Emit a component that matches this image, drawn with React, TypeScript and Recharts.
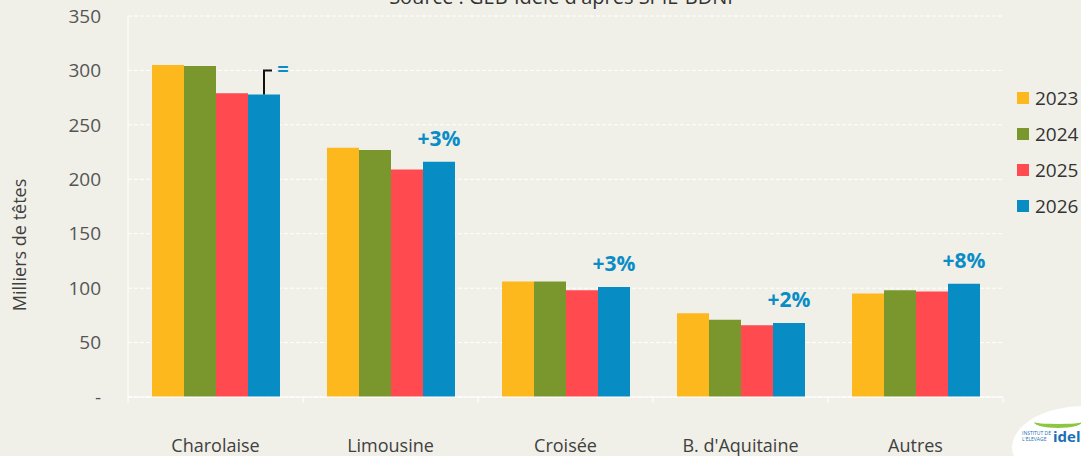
import React from 'react';
import {
  BarChart,
  Bar,
  XAxis,
  YAxis,
  CartesianGrid,
  Legend,
  LabelList,
} from 'recharts';

const categories = ['Charolaise', 'Limousine', 'Croisée', "B. d'Aquitaine", 'Autres'];
const v2023 = [305, 229, 106, 77, 95];
const v2024 = [304, 227, 106, 71, 98];
const v2025 = [279, 209, 98, 66, 97];
const v2026 = [278, 216, 101, 68, 104];
const changes = ['=', '+3%', '+3%', '+2%', '+8%'];
const yTicks = [0, 50, 100, 150, 200, 250, 300, 350];

const years = ['2023', '2024', '2025', '2026'];
const colors = ['#FDB81E', '#7A972D', '#FF4B4F', '#078DC4'];

const FONT = '"Open Sans", sans-serif';
const BG = '#F0F0E8';

const chartData = categories.map((name, i) => ({
  name,
  '2023': v2023[i],
  '2024': v2024[i],
  '2025': v2025[i],
  '2026': v2026[i],
  change: changes[i],
}));

function CategoryTick(props: any) {
  const { x, y, payload, index } = props;
  const half = payload?.offset || 87.5;
  const axisY = y - 8;
  return (
    <g>
      <line x1={x - half} x2={x - half} y1={axisY} y2={axisY + 6} stroke="#fff" />
      {index === categories.length - 1 && (
        <line x1={x + half} x2={x + half} y1={axisY} y2={axisY + 6} stroke="#fff" />
      )}
      <text x={x} y={y + 47} textAnchor="middle" fill="#404040" fontSize={18} fontFamily={FONT}>
        {payload.value}
      </text>
    </g>
  );
}

function ChangeLabel(props: any) {
  const { x, y, width, value } = props;
  const cx = x + width / 2;
  if (value === '=') {
    return (
      <g>
        <polyline
          points={`${cx},${y} ${cx},${y - 24} ${cx + 8},${y - 24}`}
          fill="none"
          stroke="#111"
          strokeWidth={2}
        />
        <text x={cx + 19} y={y - 18} textAnchor="middle" fill="#0A8CC6" fontSize={20} fontWeight={700} fontFamily={FONT}>
          =
        </text>
      </g>
    );
  }
  return (
    <text x={cx} y={y - 16} textAnchor="middle" fill="#0A8CC6" fontSize={21} fontWeight={700} fontFamily={FONT}>
      {value}
    </text>
  );
}

function LegendBox() {
  return (
    <div style={{ fontFamily: FONT }}>
      {years.map((yr, i) => (
        <div key={yr} style={{ display: 'flex', alignItems: 'center', height: 36 }}>
          <span style={{ width: 12, height: 12, background: colors[i], marginRight: 6 }} />
          <span style={{ fontSize: 19, color: '#333' }}>{yr}</span>
        </div>
      ))}
    </div>
  );
}

export default function App() {
  return (
    <div style={{ position: 'absolute', left: 0, top: 0, width: 1081, height: 456, background: BG, overflow: 'hidden' }}>
      <div
        style={{
          position: 'absolute',
          top: -17,
          left: 0,
          width: 1122,
          textAlign: 'center',
          fontFamily: FONT,
          fontSize: 20,
          color: '#333',
        }}
      >
        Source : GEB-Idele d'après SPIE-BDNI
      </div>
      <BarChart
        width={1081}
        height={456}
        data={chartData}
        margin={{ top: 16, right: 78, left: 0, bottom: 9 }}
        barSize={32}
        barGap={0}
      >
        <CartesianGrid vertical={false} stroke="#fff" strokeDasharray="4 2" />
        <XAxis
          dataKey="name"
          height={50}
          axisLine={{ stroke: '#fff' }}
          tickLine={false}
          tick={<CategoryTick />}
          interval={0}
        />
        <YAxis
          width={128}
          domain={[0, 350]}
          ticks={yTicks}
          axisLine={{ stroke: '#fff' }}
          tickLine={false}
          tickSize={0}
          tickMargin={27}
          tickFormatter={(v: number) => (v === 0 ? '-' : String(v))}
          tick={{ fill: '#555', fontSize: 19, fontFamily: FONT }}
          label={{
            value: 'Milliers de têtes',
            position: 'insideLeft',
            content: () => (
              <text
                x={26}
                y={245}
                transform="rotate(-90 26 245)"
                textAnchor="middle"
                fill="#404040"
                fontSize={18}
                fontFamily={FONT}
              >
                Milliers de têtes
              </text>
            ),
          }}
        />
        <Legend
          layout="vertical"
          align="center"
          verticalAlign="middle"
          content={<LegendBox />}
          wrapperStyle={{ left: 1017, top: 80, width: 80 }}
        />
        {years.map((yr, i) => (
          <Bar key={yr} dataKey={yr} fill={colors[i]} isAnimationActive={false}>
            {i === 3 && <LabelList dataKey="change" content={<ChangeLabel />} />}
          </Bar>
        ))}
      </BarChart>
      <div
        style={{
          position: 'absolute',
          left: 1012,
          top: 406,
          width: 120,
          height: 70,
          background: '#fff',
          borderRadius: '60% 0 0 40%',
          fontFamily: FONT,
        }}
      >
        <div
          style={{
            position: 'absolute',
            left: 22,
            top: 10,
            width: 48,
            height: 8,
            borderBottom: '4px solid #8DC63F',
            borderRadius: '0 0 50% 50%',
          }}
        />
        <div style={{ position: 'absolute', left: 10, top: 24, fontSize: 5, color: '#1B6FB5', lineHeight: '6px' }}>
          INSTITUT DE
          <br />
          L'ELEVAGE
        </div>
        <div style={{ position: 'absolute', left: 41, top: 20, fontSize: 15, fontWeight: 700, color: '#1B6FB5' }}>
          idele
        </div>
      </div>
    </div>
  );
}
